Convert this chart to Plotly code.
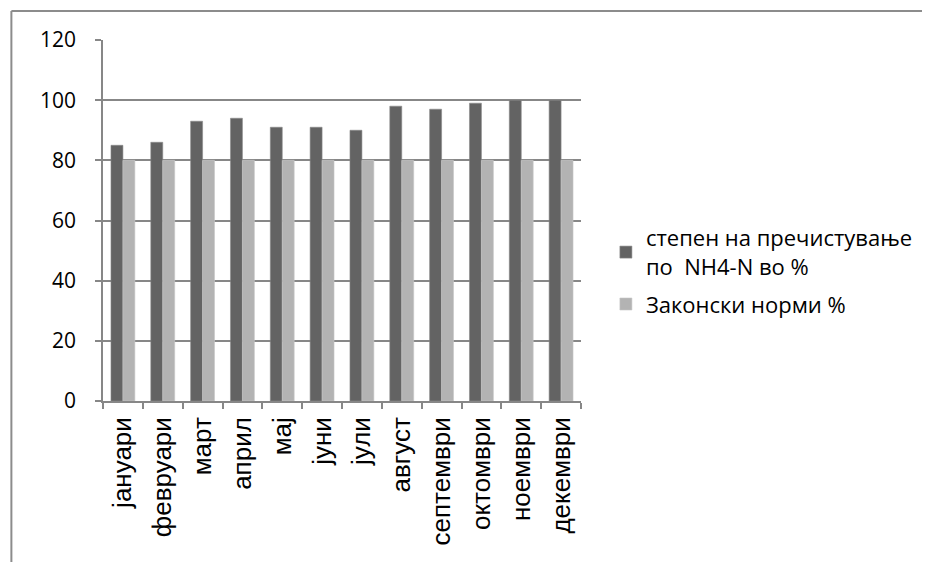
import plotly.graph_objects as go

months = ["јануари", "февруари", "март", "април", "мај", "јуни", "јули",
          "август", "септември", "октомври", "ноември", "декември"]
purification = [85, 86, 93, 94, 91, 91, 90, 98, 97, 99, 100, 100]
legal_norm = [80, 80, 80, 80, 80, 80, 80, 80, 80, 80, 80, 80]

series1_name = "степен на пречистување<br>по  NH4-N во %"
series2_name = "Законски норми %"

# page is offset by the default 8px body margin
OFF = 8
W, H = 930 - OFF, 562 - OFF
L, R, T, B = 103, 583, 40, 401   # plot area in page coordinates
pw, ph = R - L, B - T

def px(x):
    return (x - L) / pw

def py(y):
    return (B - y) / ph

FONT = "Open Sans, Liberation Sans, sans-serif"
XFONT = "Liberation Sans, Arial, sans-serif"

fig = go.Figure()
fig.add_trace(go.Bar(x=months, y=purification, name=series1_name, legendgroup="a",
                     marker=dict(color="#636363", line=dict(color="#8a8a8a", width=0.6))))
fig.add_trace(go.Bar(x=months, y=legal_norm, name=series2_name, legendgroup="b",
                     marker=dict(color="#b3b3b3", line=dict(color="#c8c8c8", width=0.6))))

fig.update_layout(
    width=W, height=H,
    margin=dict(l=L - OFF, r=930 - R, t=T - OFF, b=562 - B, pad=0),
    paper_bgcolor="white", plot_bgcolor="white",
    barmode="group", bargap=0.4, bargroupgap=0,
    font=dict(family=FONT, size=21, color="black"),
    showlegend=True,
    legend=dict(x=px(608), y=py(217), xanchor="left", yanchor="top",
                font=dict(family=FONT, size=22, color="black"),
                itemwidth=30, tracegroupgap=6, bgcolor="rgba(0,0,0,0)"),
    shapes=[
        dict(type="line", xref="paper", yref="paper",
             x0=px(11), x1=px(11), y0=py(11), y1=py(600),
             line=dict(color="#8c8c8c", width=2)),
        dict(type="line", xref="paper", yref="paper",
             x0=px(11), x1=px(960), y0=py(11), y1=py(11),
             line=dict(color="#8c8c8c", width=2)),
    ],
)

fig.update_xaxes(
    showline=True, linecolor="#878787", linewidth=1.5,
    ticks="outside", tickson="boundaries", ticklen=6, tickcolor="#878787", tickwidth=1.5,
    tickangle=-90, tickfont=dict(family=XFONT, size=26, color="black"),
    ticklabelstandoff=4,
    showgrid=False,
)
fig.update_yaxes(
    range=[0, 120], dtick=20, tick0=0,
    showline=True, linecolor="#878787", linewidth=1.5,
    ticks="outside", ticklen=6, tickcolor="#878787", tickwidth=1.5,
    showgrid=True, gridcolor="#878787", gridwidth=1.5,
    zeroline=False,
    tickfont=dict(family=FONT, size=21, color="black"),
    ticklabelstandoff=15,
)

fig.write_html("out.html")
